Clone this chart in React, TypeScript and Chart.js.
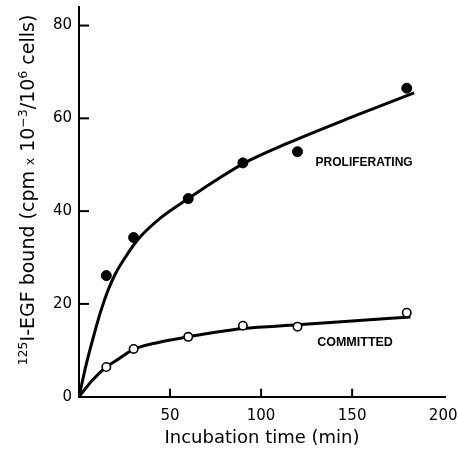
import { useEffect, useRef } from 'react';
import { Chart, registerables } from 'chart.js';

Chart.register(...registerables);

// ---- data ----
const pointTimes = [15, 30, 60, 90, 120, 180];
const proliferatingValues = [26.1, 34.3, 42.7, 50.4, 52.8, 66.5];
const committedValues = [6.4, 10.3, 12.9, 15.3, 15.1, 18.1];

const proliferatingCurveX = [0, 4, 8, 12, 16, 20, 25, 32.6, 45, 60, 75, 90, 115, 150, 184];
const proliferatingCurveY = [0, 7, 13, 18.5, 23, 26.5, 29.8, 34, 38.6, 42.7, 46.6, 50.2, 54.7, 60.3, 65.5];

const committedCurveX = [0, 7, 15, 21.6, 30, 43.6, 60, 75, 90, 120, 150, 182];
const committedCurveY = [0, 3.4, 6.4, 8.1, 10.2, 11.7, 12.9, 13.9, 14.7, 15.5, 16.3, 17.2];

const xTicks = [0, 50, 100, 150, 200];
const yTicks = [0, 20, 40, 60, 80];
const seriesNames = ['PROLIFERATING', 'COMMITTED'];
const xTitle = 'Incubation time (min)';

const FONT = '"DejaVu Sans", sans-serif';

const overlayPlugin = {
  id: 'overlay',
  afterDraw(chart: any) {
    const ctx = chart.ctx as CanvasRenderingContext2D;
    const xs = chart.scales.x;
    const ys = chart.scales.y;
    const area = chart.chartArea;
    ctx.save();
    ctx.strokeStyle = '#000';
    ctx.lineWidth = 2;
    // inward tick marks
    yTicks.forEach((v) => {
      if (v === 0) return;
      const py = ys.getPixelForValue(v);
      ctx.beginPath();
      ctx.moveTo(area.left, py);
      ctx.lineTo(area.left + 10, py);
      ctx.stroke();
    });
    xTicks.forEach((v) => {
      if (v === 0 || v === 200) return;
      const px = xs.getPixelForValue(v);
      ctx.beginPath();
      ctx.moveTo(px, area.bottom);
      ctx.lineTo(px, area.bottom - 8);
      ctx.stroke();
    });

    // series labels
    ctx.fillStyle = '#000';
    ctx.font = 'bold 12px "Liberation Sans", Arial, sans-serif';
    ctx.textAlign = 'center';
    ctx.textBaseline = 'middle';
    ctx.fillText(seriesNames[0], xs.getPixelForValue(156.6), ys.getPixelForValue(50.4));
    ctx.font = 'bold 12.5px "Liberation Sans", Arial, sans-serif';
    ctx.fillText(seriesNames[1], xs.getPixelForValue(151.6), ys.getPixelForValue(11.6));

    // y axis title with superscripts
    const segs = [
      { t: '125', sup: true },
      { t: 'I-EGF bound (cpm ', sup: false },
      { t: 'x', small: true },
      { t: ' 10', sup: false },
      { t: '\u22123', sup: true },
      { t: '/10', sup: false },
      { t: '6', sup: true },
      { t: ' cells)', sup: false },
    ] as any[];
    const mainFont = `19px ${FONT}`;
    const supFont = `12.5px ${FONT}`;
    const smallFont = `12px ${FONT}`;
    const fontFor = (s: any) => (s.sup ? supFont : s.small ? smallFont : mainFont);
    let total = 0;
    segs.forEach((s) => {
      ctx.font = fontFor(s);
      s.w = ctx.measureText(s.t).width;
      total += s.w;
    });
    ctx.translate(27, 190);
    ctx.rotate(-Math.PI / 2);
    ctx.textAlign = 'left';
    ctx.textBaseline = 'alphabetic';
    let cx = -total / 2;
    segs.forEach((s) => {
      ctx.font = fontFor(s);
      const dy = s.sup ? -7 : 0;
      ctx.fillText(s.t, cx, 7 + dy);
      cx += s.w;
    });
    ctx.restore();
  },
};

export default function App() {
  const ref = useRef<HTMLCanvasElement | null>(null);
  useEffect(() => {
    if (!ref.current) return;
    const chart = new Chart(ref.current, {
      type: 'scatter',
      data: {
        datasets: [
          {
            label: 'Proliferating',
            data: pointTimes.map((x, i) => ({ x, y: proliferatingValues[i] })),
            backgroundColor: '#000',
            borderColor: '#000',
            pointRadius: 5,
            pointBorderWidth: 1,
            showLine: false,
            order: 0,
          },
          {
            label: 'Committed',
            data: pointTimes.map((x, i) => ({ x, y: committedValues[i] })),
            backgroundColor: '#fff',
            borderColor: '#000',
            pointRadius: 4.2,
            pointBorderWidth: 1.6,
            showLine: false,
            order: 0,
          },
          {
            label: 'Proliferating fit',
            data: proliferatingCurveX.map((x, i) => ({ x, y: proliferatingCurveY[i] })),
            borderColor: '#000',
            borderWidth: 3,
            pointRadius: 0,
            showLine: true,
            cubicInterpolationMode: 'monotone',
            order: 1,
          },
          {
            label: 'Committed fit',
            data: committedCurveX.map((x, i) => ({ x, y: committedCurveY[i] })),
            borderColor: '#000',
            borderWidth: 3,
            pointRadius: 0,
            showLine: true,
            cubicInterpolationMode: 'monotone',
            order: 1,
          },
        ],
      },
      options: {
        animation: false,
        responsive: false,
        devicePixelRatio: 1,
        layout: { padding: { left: 0, top: 7, right: 13, bottom: 0 } },
        plugins: { legend: { display: false }, tooltip: { enabled: false } },
        scales: {
          x: {
            type: 'linear',
            min: 0,
            max: 201,
            afterBuildTicks: (s: any) => {
              s.ticks = xTicks.map((v) => ({ value: v }));
            },
            afterFit: (s: any) => {
              s.height = 61.3;
              s.paddingLeft = 0;
              s.paddingRight = 0;
            },
            grid: { display: false, drawTicks: false },
            border: { display: true, color: '#000', width: 2 },
            ticks: {
              color: '#000',
              padding: 10,
              font: { family: FONT, size: 15 },
              callback: (v: any) => (v === 0 ? '' : String(v)),
              maxRotation: 0,
            },
            title: {
              display: true,
              text: xTitle,
              color: '#000',
              font: { family: FONT, size: 18 },
              padding: { top: 0, bottom: 9 },
            },
          },
          y: {
            type: 'linear',
            min: 0,
            max: 84,
            afterBuildTicks: (s: any) => {
              s.ticks = yTicks.map((v) => ({ value: v }));
            },
            afterFit: (s: any) => {
              s.width = 79;
              s.paddingTop = 0;
              s.paddingBottom = 0;
            },
            grid: { display: false, drawTicks: false },
            border: { display: true, color: '#000', width: 2 },
            ticks: {
              color: '#000',
              padding: 7,
              font: { family: FONT, size: 15 },
            },
          },
        },
      },
      plugins: [overlayPlugin],
    } as any);
    return () => chart.destroy();
  }, []);
  return (
    <div style={{ position: 'fixed', left: 0, top: 0, width: 458, height: 458, background: '#fff' }}>
      <canvas ref={ref} width={458} height={458} />
    </div>
  );
}
